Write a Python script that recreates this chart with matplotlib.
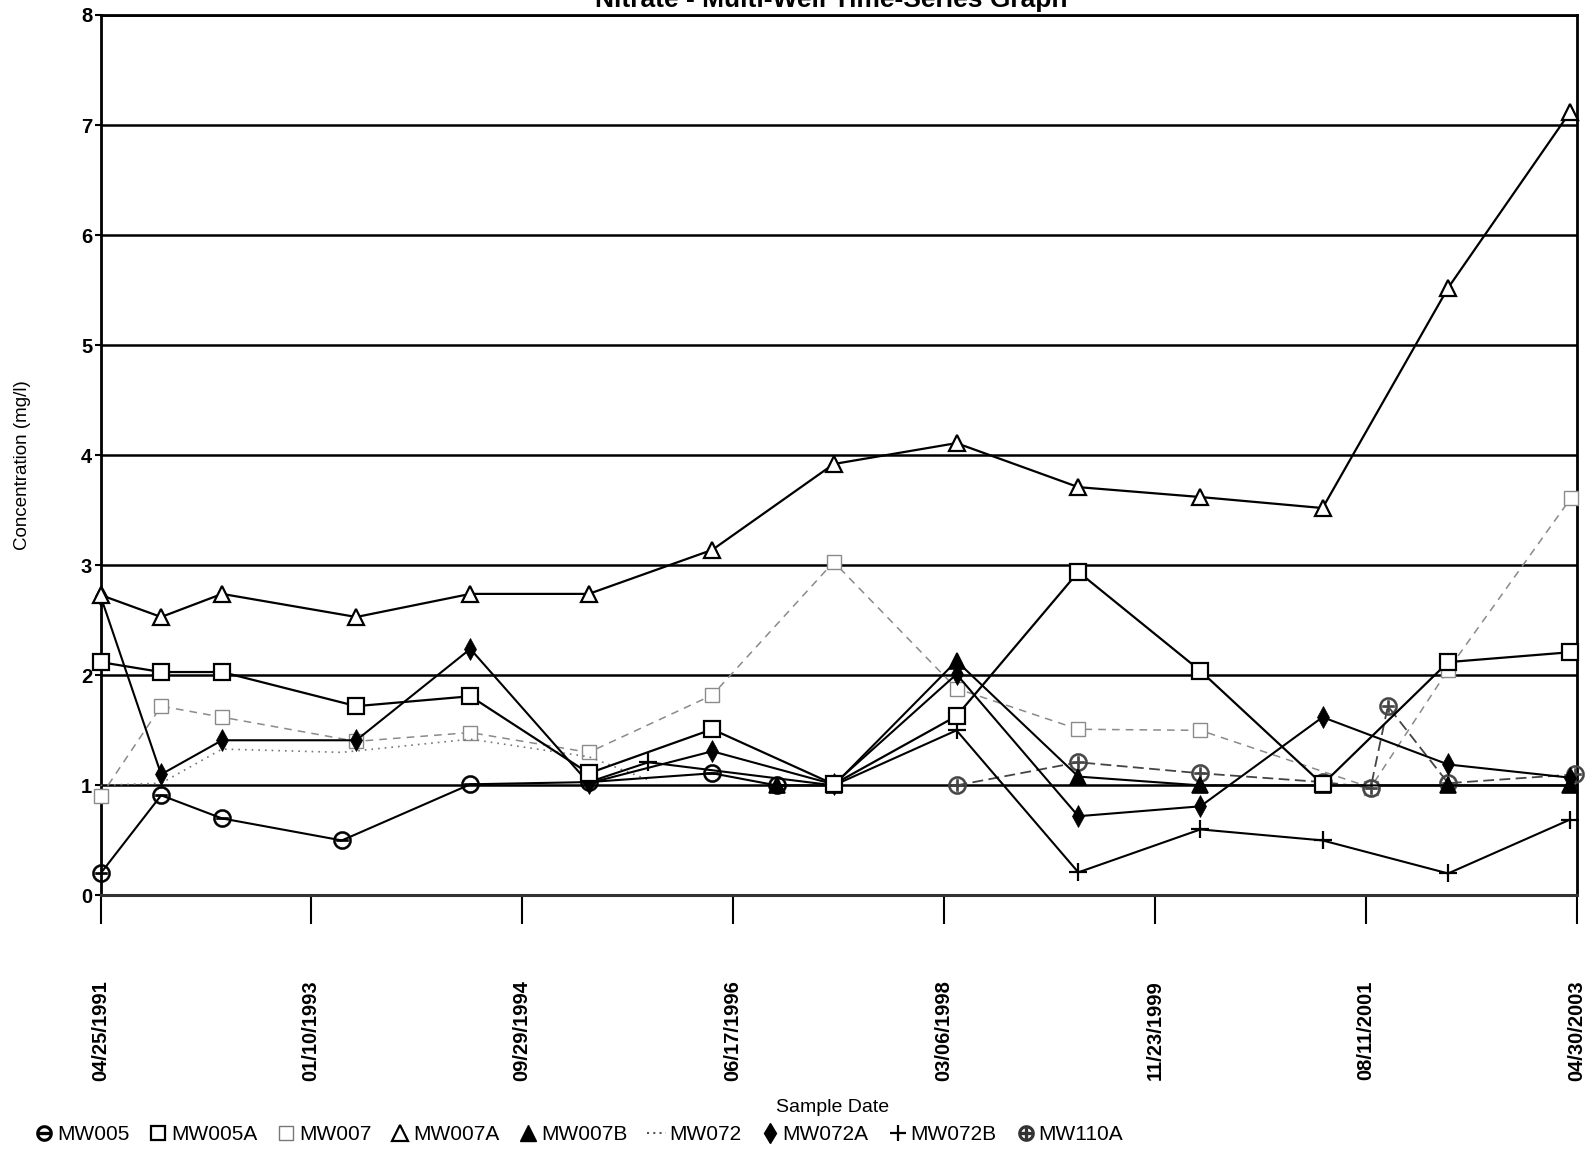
import matplotlib
matplotlib.use("Agg")
import matplotlib.pyplot as plt
from matplotlib.lines import Line2D
from datetime import datetime

plt.rcParams['font.family'] = ['Liberation Sans', 'DejaVu Sans']

# ---- data -------------------------------------------------------------
mw005_dates = ['1991-04-25', '1991-10-22', '1992-04-20', '1993-04-11', '1994-04-28',
               '1995-04-15', '1996-04-16', '1996-10-24']
mw005_vals = [0.20, 0.91, 0.70, 0.50, 1.01, 1.03, 1.11, 1.00]

mw005a_dates = ['1991-04-25', '1991-10-22', '1992-04-20', '1993-05-24', '1994-04-28',
                '1995-04-15', '1996-04-16', '1997-04-12', '1998-04-12', '1999-04-09',
                '2000-04-06', '2001-04-04', '2002-04-12', '2003-04-10']
mw005a_vals = [2.12, 2.03, 2.03, 1.72, 1.81, 1.11, 1.51, 1.01, 1.63, 2.94,
               2.04, 1.01, 2.12, 2.21]

mw007_dates = ['1991-04-25', '1991-10-22', '1992-04-20', '1993-05-24', '1994-04-28',
               '1995-04-15', '1996-04-16', '1997-04-12', '1998-04-12', '1999-04-09',
               '2000-04-06', '2001-08-25', '2002-04-12', '2003-04-12']
mw007_vals = [0.90, 1.72, 1.62, 1.40, 1.48, 1.30, 1.82, 3.03, 1.88, 1.51,
              1.50, 0.98, 2.05, 3.61]

mw007a_dates = ['1991-04-25', '1991-10-22', '1992-04-20', '1993-05-24', '1994-04-28',
                '1995-04-15', '1996-04-16', '1997-04-12', '1998-04-12', '1999-04-09',
                '2000-04-06', '2001-04-04', '2002-04-12', '2003-04-10']
mw007a_vals = [2.73, 2.53, 2.74, 2.53, 2.74, 2.74, 3.14, 3.92, 4.11, 3.71,
               3.62, 3.52, 5.52, 7.12]

mw007b_dates = ['1996-10-24', '1997-04-12', '1998-04-12', '1999-04-09', '2000-04-06',
                '2001-04-04', '2002-04-12', '2003-04-10']
mw007b_vals = [1.00, 1.00, 2.13, 1.08, 1.00, 1.00, 1.00, 1.00]

mw072_dates = ['1991-04-25', '1991-10-22', '1992-04-20', '1993-04-11', '1994-04-28',
               '1995-04-15', '1995-10-09']
mw072_vals = [1.00, 1.02, 1.33, 1.30, 1.42, 1.26, 1.05]

mw072a_dates = ['1991-04-25', '1991-10-22', '1992-04-20', '1993-05-24', '1994-04-28',
                '1995-04-15', '1996-04-16', '1997-04-12', '1998-04-12', '1999-04-09',
                '2000-04-06', '2001-04-04', '2002-04-12', '2003-04-10']
mw072a_vals = [2.72, 1.10, 1.41, 1.41, 2.24, 1.02, 1.31, 1.01, 2.01, 0.72,
               0.81, 1.62, 1.19, 1.07]

mw072b_dates = ['1995-04-15', '1995-10-09', '1997-04-12', '1998-04-12', '1999-04-09',
                '2000-04-06', '2001-04-04', '2002-04-12', '2003-04-10']
mw072b_vals = [1.03, 1.21, 1.00, 1.50, 0.21, 0.60, 0.50, 0.20, 0.69]

mw110a_dates = ['1998-04-12', '1999-04-09', '2000-04-06', '2001-04-04', '2001-08-25',
                '2001-10-15', '2002-04-12', '2003-04-25']
mw110a_vals = [1.00, 1.21, 1.11, 1.03, 0.98, 1.72, 1.02, 1.10]

x_tick_labels = ['04/25/1991', '01/10/1993', '09/29/1994', '06/17/1996',
                 '03/06/1998', '11/23/1999', '08/11/2001', '04/30/2003']
y_ticks = [0, 1, 2, 3, 4, 5, 6, 7, 8]


def to_dates(strings):
    return [datetime.strptime(s, '%Y-%m-%d') for s in strings]


# ---- figure -------------------------------------------------------------
fig = plt.figure(figsize=(15.94, 11.52), dpi=100)
ax = fig.add_axes([0.0631, 0.2227, 0.9262, 0.7643])

ax.set_ylim(0, 8)
ax.set_yticks(y_ticks)
ax.set_yticklabels([str(t) for t in y_ticks], fontsize=14.5, fontweight='bold')
ax.yaxis.grid(True, color='black', linewidth=1.8)
ax.set_axisbelow(True)

tick_pos = [datetime.strptime(s, '%m/%d/%Y') for s in x_tick_labels]
ax.set_xlim(tick_pos[0], tick_pos[-1])
ax.set_xticks(tick_pos)
ax.set_xticklabels(x_tick_labels, rotation=90, fontsize=14.5, fontweight='bold')
ax.tick_params(axis='x', direction='out', length=21, width=1.5, pad=40)
ax.tick_params(axis='y', direction='out', length=4, width=1.5, pad=2)

for side in ['left', 'top', 'right']:
    ax.spines[side].set_linewidth(2.0)
ax.spines['bottom'].set_linewidth(2.2)
ax.spines['bottom'].set_color('#333333')

series = [
    # name, dates, values, line style, marker style
    ('MW007', mw007_dates, mw007_vals,
     dict(color='#8a8a8a', lw=1.1, ls=(0, (5, 4))),
     dict(marker='s', ms=10, mfc='white', mec='#8a8a8a', mew=1.0)),
    ('MW072', mw072_dates, mw072_vals,
     dict(color='#777777', lw=1.2, ls=(0, (1, 3))),
     dict(marker='None')),
    ('MW110A', mw110a_dates, mw110a_vals,
     dict(color='#444444', lw=1.3, ls=(0, (6, 3))),
     dict(marker=r'$\oplus$', ms=13, mfc='#444444', mec='#444444', mew=0.4)),
    ('MW005', mw005_dates, mw005_vals,
     dict(color='black', lw=1.5, ls='-'),
     dict(marker=r'$\ominus$', ms=13, mfc='black', mec='black', mew=0.4)),
    ('MW072B', mw072b_dates, mw072b_vals,
     dict(color='black', lw=1.5, ls='-'),
     dict(marker='+', ms=13, mec='black', mew=1.6)),
    ('MW072A', mw072a_dates, mw072a_vals,
     dict(color='black', lw=1.5, ls='-'),
     dict(marker='d', ms=11, mfc='black', mec='black', mew=0.5)),
    ('MW007B', mw007b_dates, mw007b_vals,
     dict(color='black', lw=1.5, ls='-'),
     dict(marker='^', ms=11, mfc='black', mec='black', mew=1.2)),
    ('MW005A', mw005a_dates, mw005a_vals,
     dict(color='black', lw=1.6, ls='-'),
     dict(marker='s', ms=11, mfc='white', mec='black', mew=1.6)),
    ('MW007A', mw007a_dates, mw007a_vals,
     dict(color='black', lw=1.6, ls='-'),
     dict(marker='^', ms=12, mfc='white', mec='black', mew=1.6)),
]

for name, d, v, lkw, mkw in series:
    ax.plot(to_dates(d), v, clip_on=False, zorder=3, **lkw, **mkw)

# ---- text ---------------------------------------------------------------
fig.text(0.5217, 0.9935, 'Nitrate - Multi-Well Time-Series Graph',
         ha='center', va='baseline', fontsize=19, fontweight='bold')
fig.text(0.014, 0.5964, 'Concentration (mg/l)', rotation=90,
         ha='center', va='center', fontsize=13.5)
fig.text(0.522, 0.0385, 'Sample Date', ha='center', va='center', fontsize=14)

legend_items = [
    ('MW005', dict(marker=r'$\ominus$', ms=11, color='black', ls='None')),
    ('MW005A', dict(marker='s', ms=10, mfc='white', mec='black', mew=1.6, ls='None')),
    ('MW007', dict(marker='s', ms=10, mfc='white', mec='#777777', mew=1.0, ls='None')),
    ('MW007A', dict(marker='^', ms=11, mfc='white', mec='black', mew=1.6, ls='None')),
    ('MW007B', dict(marker='^', ms=11, mfc='black', mec='black', ls='None')),
    ('MW072', dict(color='#555555', lw=1.5, ls=(0, (1, 2)))),
    ('MW072A', dict(marker='d', ms=10, mfc='black', mec='black', ls='None')),
    ('MW072B', dict(marker='+', ms=12, mec='black', mew=1.6, ls='None')),
    ('MW110A', dict(marker=r'$\oplus$', ms=11, color='#333333', ls='None')),
]
handles = [Line2D([], [], **kw) for _, kw in legend_items]
labels = [n for n, _ in legend_items]
fig.legend(handles, labels, loc='center left', bbox_to_anchor=(0.022, 0.0148),
           ncol=9, frameon=False, fontsize=15, handlelength=0.9,
           handletextpad=0.15, columnspacing=0.95, borderpad=0, borderaxespad=0)

fig.savefig('out.png', dpi=100)
